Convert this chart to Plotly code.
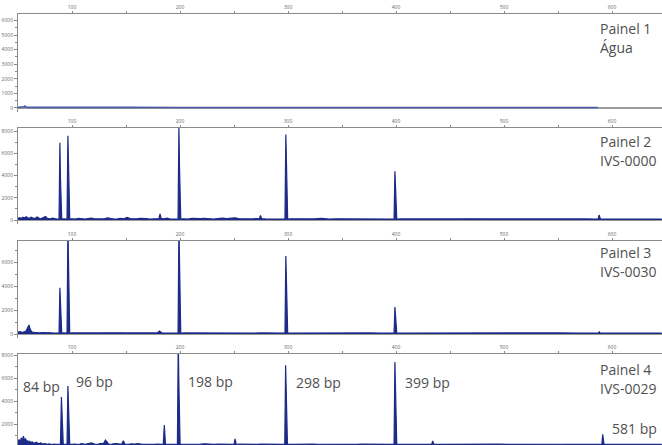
import plotly.graph_objects as go

W, H = 662, 445
NAVY = "#1c2a88"
TXT = "#505050"

# ---------------- data ----------------
p1_size = [50, 54, 55.5, 56.5, 57.5, 59, 70, 90, 120, 150, 200, 250, 300, 350, 400, 450, 500, 550, 587]
p1_rfu = [40, 40, 90, 130, 60, 40, 35, 40, 35, 40, 35, 40, 35, 40, 35, 40, 35, 40, 35]

p2_size = [50, 51.5, 53, 54.5, 56, 57.5, 59, 60.5, 62, 63.5, 65, 66.5, 68, 69.5, 71, 72.5, 74, 75.5, 77, 78.5, 80, 82, 84, 86,
           88.0, 88.8, 89.3, 89.8, 90.5, 92, 94,
           95.4, 96.2, 96.7, 97.2, 97.9,
           100, 103, 106, 109, 112, 115, 118, 121, 124, 127, 130, 133, 136, 139, 142, 145, 148, 151, 154, 157, 160, 163, 166, 169, 172, 175, 178,
           180.5, 181.5, 182.5, 185, 188, 191, 194, 196.5,
           198.2, 199.0, 199.5, 200.0, 200.7,
           203, 207, 211, 215, 219, 223, 227, 231, 235, 239, 243, 247, 251, 255, 259, 263, 267, 271,
           273.5, 274.5, 275.5, 279, 283, 286, 294,
           297.2, 298.0, 298.5, 299.0, 299.7,
           303, 310, 317, 324, 331, 338, 345, 352, 359, 366, 373, 380, 387, 393,
           398.2, 399.0, 399.5, 400.0, 400.7,
           405, 415, 425, 435, 445, 455, 465, 475, 485, 495, 505, 515, 525, 535, 545, 555, 565, 575, 583,
           587.2, 588.0, 588.6, 589.3,
           595, 610, 625, 646]
p2_rfu = [150, 220, 130, 260, 180, 300, 200, 140, 250, 170, 120, 200, 280, 150, 110, 180, 230, 320, 160, 120, 100, 180, 110, 90,
          80, 6950, 3800, 900, 80, 100, 90,
          80, 7600, 4500, 1000, 80,
          110, 90, 150, 100, 80, 130, 170, 100, 90, 140, 110, 200, 120, 90, 100, 150, 110, 230, 120, 90, 110, 140, 100, 120, 90, 110, 100,
          120, 550, 150, 100, 160, 90, 120, 90,
          90, 8400, 5000, 1200, 90,
          110, 90, 140, 100, 120, 160, 110, 90, 130, 170, 120, 140, 200, 110, 90, 130, 100, 120,
          110, 420, 130, 100, 90, 120, 90,
          90, 7700, 4000, 1100, 90,
          110, 90, 120, 100, 140, 90, 110, 100, 130, 90, 110, 100, 90, 100,
          90, 4400, 2400, 600, 90,
          100, 90, 110, 100, 90, 100, 110, 90, 100, 95, 100, 90, 100, 95, 100, 90, 100, 95, 90,
          90, 450, 200, 90,
          90, 95, 90, 90]

p3_size = [50, 52, 54, 56, 57.5, 59, 60.2, 61, 62.5, 64, 66, 68, 70, 72, 74, 76, 78, 80, 82, 84, 86,
           88.0, 88.8, 89.3, 89.8, 90.5, 92, 94,
           95.4, 96.2, 96.7, 97.2, 97.9,
           100, 105, 110, 115, 120, 125, 130, 135, 140, 145, 150, 155, 160, 165, 170, 175, 179, 181, 183, 186, 190, 194, 196.5,
           198.2, 199.0, 199.5, 200.0, 200.7,
           205, 215, 225, 235, 245, 255, 265, 275, 285, 294,
           297.2, 298.0, 298.5, 299.0, 299.7,
           305, 315, 325, 335, 345, 355, 365, 375, 385, 394,
           398.2, 399.0, 399.5, 400.0, 400.7,
           410, 430, 450, 470, 490, 510, 530, 550, 570, 585,
           587.5, 588.2, 589, 600, 646]
p3_rfu = [150, 200, 120, 180, 250, 550, 750, 450, 200, 130, 110, 100, 90, 120, 100, 90, 110, 100, 90, 100, 90,
          80, 3850, 2000, 500, 80, 90, 80,
          80, 9000, 6000, 1500, 80,
          90, 80, 100, 90, 80, 90, 100, 80, 90, 100, 90, 80, 90, 100, 90, 80, 90, 250, 100, 80, 90, 80, 90,
          80, 9000, 5500, 1400, 80,
          90, 80, 90, 100, 80, 90, 80, 90, 80, 80,
          80, 6500, 3500, 900, 80,
          80, 90, 80, 90, 80, 90, 80, 90, 80, 80,
          80, 2250, 1200, 350, 80,
          80, 90, 80, 90, 80, 90, 80, 90, 80, 80,
          80, 180, 80, 80, 80]

p4_size = [50, 51, 52, 53, 54, 55, 56, 57, 58, 59, 60, 61, 62, 63, 65, 67, 69, 71, 73, 75, 77, 79, 81, 83, 85, 87,
           89.3, 90.2, 90.7, 91.2, 91.9, 93, 94.5,
           95.4, 96.2, 96.7, 97.2, 97.9,
           100, 103, 106, 109, 112, 115, 118, 121, 124, 127, 129, 131, 134, 137, 140, 143, 146, 147.5, 149,
           152, 155, 158, 161, 164, 167, 170, 173, 176, 179, 182,
           184.5, 185.5, 186.5, 189, 192, 195, 196.8,
           197.6, 198.4, 198.9, 199.4, 200.1,
           203, 207, 211, 215, 219, 223, 227, 231, 235, 239, 243, 247, 250, 251, 252,
           255, 259, 263, 267, 271, 275, 279, 283, 287, 291, 295, 296.6,
           297.0, 297.8, 298.3, 298.8, 299.5,
           303, 308, 313, 318, 323, 328, 333, 338, 343, 348, 353, 358, 363, 368, 373, 378, 383, 388, 393, 397.2,
           398.2, 399.0, 399.5, 400.0, 400.7,
           404, 410, 416, 422, 428, 433, 434, 435, 440,
           448, 456, 464, 472, 480, 488, 496, 504, 512, 520, 528, 536, 544, 552, 560, 568, 576, 584, 589.8,
           590.6, 591.4, 591.9, 592.5, 593.2,
           600, 615, 630, 646]
p4_rfu = [400, 650, 350, 800, 500, 950, 600, 700, 450, 550, 380, 500, 320, 450, 300, 420, 280, 350, 260, 300, 240, 280, 220, 260, 230, 240,
          220, 4350, 2500, 700, 220, 240, 220,
          220, 5300, 3000, 800, 220,
          230, 260, 220, 300, 240, 280, 350, 250, 230, 320, 280, 600, 240, 260, 300, 270, 240, 550, 260,
          230, 280, 250, 300, 260, 240, 270, 250, 230, 260, 240,
          240, 1900, 260, 230, 250, 220, 220,
          220, 9500, 5800, 1500, 220,
          240, 230, 260, 220, 250, 280, 240, 230, 260, 240, 250, 230, 230, 700, 240,
          250, 230, 260, 240, 230, 250, 240, 230, 250, 240, 230, 220,
          220, 7100, 4200, 1100, 220,
          230, 250, 240, 230, 260, 240, 230, 250, 240, 230, 250, 240, 230, 250, 240, 230, 250, 240, 230, 220,
          220, 7400, 4300, 1100, 220,
          230, 240, 230, 250, 230, 230, 520, 240, 230,
          240, 230, 250, 240, 230, 240, 250, 230, 240, 230, 250, 240, 230, 240, 230, 250, 240, 230, 220,
          220, 1100, 600, 300, 220,
          230, 240, 230, 230]

x_tickvals = [100, 150, 200, 250, 300, 350, 400, 450, 500, 550, 600]
x_ticktext = ["100", "", "200", "", "300", "", "400", "", "500", "", "600"]

panel_names = ["Painel 1", "Painel 2", "Painel 3", "Painel 4"]
sample_names = ["Água", "IVS-0000", "IVS-0030", "IVS-0029"]

peak_labels = ["84 bp", "96 bp", "198 bp", "298 bp", "399 bp", "581 bp"]

# ---------------- layout helpers ----------------
def py(px):
    return 1 - px / H

def px_x(px):
    return px / W

panels = [
    dict(size=p1_size, rfu=p1_rfu, top=14, bot=112, yr=[-276, 6450], dt=1000, mdt=500, color="#4a5aa8", fill=False),
    dict(size=p2_size, rfu=p2_rfu, top=128, bot=224, yr=[-360, 8290], dt=2000, mdt=1000, color=NAVY, fill=True),
    dict(size=p3_size, rfu=p3_rfu, top=241, bot=338, yr=[-333, 7750], dt=2000, mdt=1000, color=NAVY, fill=True),
    dict(size=p4_size, rfu=p4_rfu, top=354, bot=445, yr=[174, 8087], dt=2000, mdt=1000, color=NAVY, fill=True),
]

fig = go.Figure()
layout = dict(
    width=W, height=H,
    margin=dict(l=0, r=0, t=0, b=0, pad=0, autoexpand=False),
    paper_bgcolor="white", plot_bgcolor="white",
    showlegend=False,
    font=dict(family="Open Sans", color=TXT),
)

for i, p in enumerate(panels):
    n = "" if i == 0 else str(i + 1)
    fig.add_trace(go.Scatter(
        x=p["size"], y=p["rfu"], mode="lines",
        line=dict(color=p["color"], width=1.2 if p["fill"] else 1.6),
        fill="tozeroy" if p["fill"] else None,
        fillcolor=NAVY,
        xaxis="x" + n, yaxis="y" + n, hoverinfo="skip",
    ))
    layout["xaxis" + n] = dict(
        domain=[18 / W, 1], range=[50, 646.3], anchor="y" + n, side="top",
        showline=True, linecolor="#8a8a8a", linewidth=1, mirror=False,
        showgrid=False, zeroline=False, automargin=False,
        tickmode="array", tickvals=x_tickvals, ticktext=x_ticktext,
        ticks="outside", ticklen=2, tickcolor="#8a8a8a",
        tickfont=dict(size=5, color="#666"),
    )
    layout["yaxis" + n] = dict(
        domain=[py(p["bot"]), py(p["top"])], range=p["yr"], anchor="x" + n,
        showline=True, linecolor="#8a8a8a", linewidth=1,
        showgrid=False, zeroline=True, zerolinecolor="#9a9a9a", zerolinewidth=1.5,
        automargin=False,
        dtick=p["dt"], tick0=0, ticks="outside", ticklen=3, tickcolor="#8a8a8a",
        minor=dict(dtick=p["mdt"], ticks="outside", ticklen=2, tickcolor="#8a8a8a"),
        tickfont=dict(size=5, color="#666"),
    )

ann = []
name_pos = [(29, 48), (141, 160), (252.5, 271), (369, 388)]
for i, (ya, yb) in enumerate(name_pos):
    ann.append(dict(x=px_x(598), y=py(ya), xref="paper", yref="paper", text=panel_names[i],
                    showarrow=False, xanchor="left", yanchor="middle", font=dict(size=14, color=TXT)))
    ann.append(dict(x=px_x(598), y=py(yb), xref="paper", yref="paper", text=sample_names[i],
                    showarrow=False, xanchor="left", yanchor="middle", font=dict(size=14, color=TXT)))

bp_pos = [(21, 386), (74, 381), (186, 381), (294, 382), (403, 382), (610, 428)]
for lab, (xx, yy) in zip(peak_labels, bp_pos):
    ann.append(dict(x=px_x(xx), y=py(yy), xref="paper", yref="paper", text=lab,
                    showarrow=False, xanchor="left", yanchor="middle", font=dict(size=14, color=TXT)))

layout["annotations"] = ann
fig.update_layout(**layout)
fig.write_html("out.html",
               config={"displayModeBar": False},
               post_script="document.body.style.margin='0';document.body.style.padding='0';document.body.style.overflow='hidden';")
